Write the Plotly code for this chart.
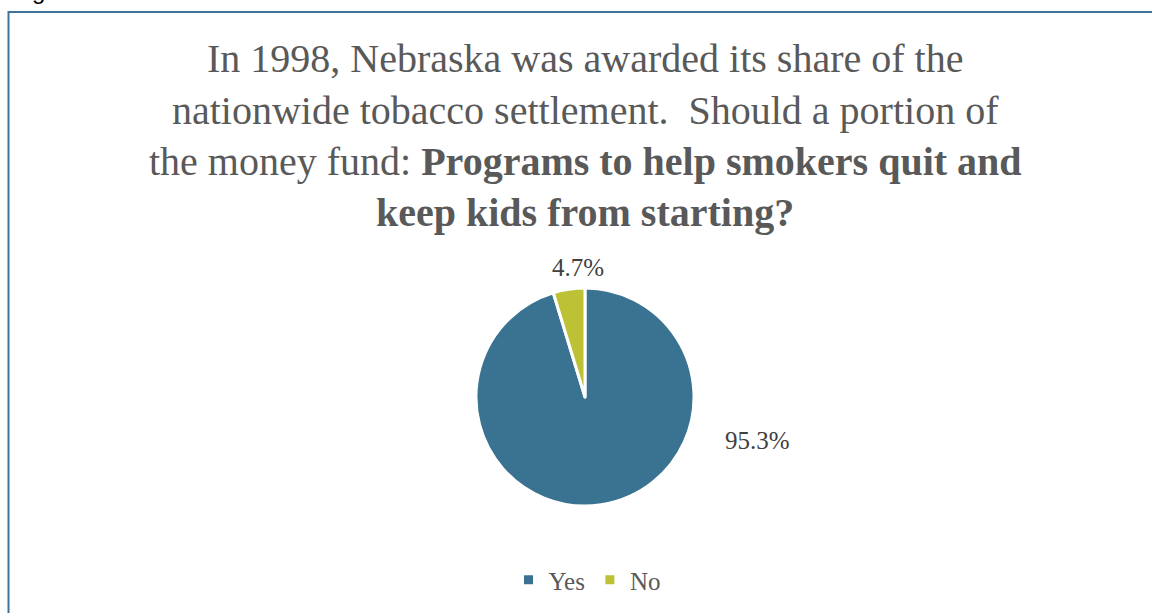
import plotly.graph_objects as go

labels = ["Yes", "No"]
values = [95.3, 4.7]
colors = ["#3A7391", "#BDC136"]

W, H = 1152, 613
SERIF = "Liberation Serif"
GREY = "#595959"

fig = go.Figure(go.Pie(
    labels=labels,
    values=values,
    sort=False,
    direction="clockwise",
    rotation=0,
    marker=dict(colors=colors, line=dict(color="white", width=3)),
    textinfo="none",
    hoverinfo="label+percent",
    domain=dict(x=[(585 - 109) / W, (585 + 109) / W],
                y=[(H - 506) / H, (H - 288) / H]),
))

# title lines, one annotation each for control of line spacing
title_lines = [
    "In 1998, Nebraska was awarded its share of the",
    "nationwide tobacco settlement.  Should a portion of",
    "the money fund: <b>Programs to help smokers quit and</b>",
    "<b>keep kids from starting?</b>",
]
title_y = [58, 110, 161, 212]
annotations = []
for txt, yp in zip(title_lines, title_y):
    annotations.append(dict(
        text=txt, x=585 / W, y=(H - yp) / H, xref="paper", yref="paper",
        xanchor="center", yanchor="middle", showarrow=False,
        font=dict(family=SERIF, size=40, color=GREY),
    ))

# value labels
label_pos = [(757, 440), (578, 268)]
for v, (xp, yp) in zip(values, label_pos):
    annotations.append(dict(
        text=f"{v:.1f}%", x=xp / W, y=(H - yp) / H, xref="paper", yref="paper",
        xanchor="center", yanchor="middle", showarrow=False,
        font=dict(family=SERIF, size=25, color="#404040"),
    ))

# caption above the frame, mostly off the top edge
annotations.append(dict(
    text="Figure", x=10 / W, y=(H - 6) / H, xref="paper", yref="paper",
    xanchor="left", yanchor="bottom", showarrow=False,
    font=dict(family="Liberation Sans", size=24, color="#000000"),
))

frame = "#41729A"
shapes = [
    dict(type="line", xref="paper", yref="paper",
         x0=8 / W, x1=1.0, y0=(H - 12) / H, y1=(H - 12) / H,
         line=dict(color=frame, width=2)),
    dict(type="line", xref="paper", yref="paper",
         x0=8.5 / W, x1=8.5 / W, y0=0, y1=(H - 11) / H,
         line=dict(color=frame, width=2)),
]

fig.update_layout(
    width=W, height=H,
    margin=dict(l=0, r=0, t=0, b=0),
    paper_bgcolor="white",
    plot_bgcolor="white",
    showlegend=True,
    legend=dict(orientation="h", x=587 / W, xanchor="center",
                y=(H - 580) / H, yanchor="middle",
                font=dict(family=SERIF, size=25, color=GREY),
                itemwidth=30, traceorder="normal"),
    annotations=annotations,
    shapes=shapes,
)

fig.write_html("out.html")
